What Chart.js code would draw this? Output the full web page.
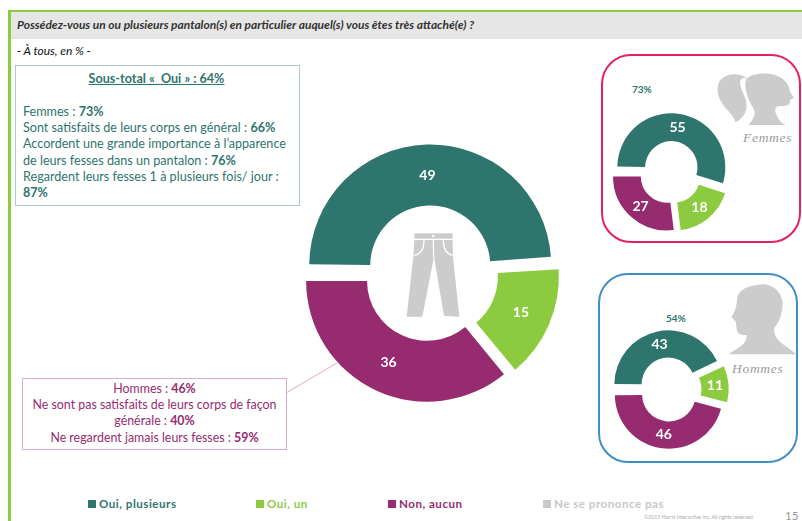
<!DOCTYPE html>
<html lang="fr">
<head>
<meta charset="utf-8">
<title>Pantalons</title>
<script src="https://cdn.jsdelivr.net/npm/chart.js@4"></script>
<style>
  html, body { margin: 0; padding: 0; background: #fff; }
  body { position: relative; width: 802px; height: 521px; overflow: hidden; font-family: Lato, sans-serif; }
  canvas, .abs { position: absolute; }
  .line { position: absolute; white-space: nowrap; }
  #frame-left { left: 8px; top: 10px; width: 3px; height: 511px; background: #8CCB3F; }
  #frame-top { left: 8px; top: 10px; width: 794px; height: 2px; background: #8CCB3F; }
  #band { left: 11px; top: 12px; width: 791px; height: 27px; background: #E6E6E6; }
  #title { left: 17px; top: 17px; font-size: 11.95px; font-weight: 700; font-style: italic; color: #333; white-space: nowrap; }
  #base { left: 17px; top: 43px; font-size: 11.9px; font-style: italic; color: #111; white-space: nowrap; }
  .box { box-sizing: border-box; background: #fff; }
  #box-oui { left: 15px; top: 65px; width: 285px; height: 141px; border: 1px solid #A9CCC7; color: #2E756D; font-size: 12.6px; line-height: 16px; }
  #box-non { left: 22px; top: 378px; width: 265px; height: 72px; border: 1px solid #DDA9CC; color: #962B70; font-size: 12.4px; line-height: 16px; }
  #box-non .line { left: 0; width: 263px; text-align: center; }
  .round { box-sizing: border-box; border-radius: 30px; border-width: 2px; border-style: solid; }
  #frame-f { left: 601px; top: 54px; width: 200px; height: 189px; border-color: #E5215F; }
  #frame-h { left: 598px; top: 273px; width: 200px; height: 190px; border-color: #3F8FC6; }
  .pct { font-size: 10px; font-weight: 700; color: #2E756D; white-space: nowrap; }
  .script { font-family: "Liberation Serif", serif; font-style: italic; font-size: 13.5px; letter-spacing: .7px; color: #9A9A9A; white-space: nowrap; }
  .legend-item { position: absolute; top: 497px; font-size: 11.6px; font-weight: 700; letter-spacing: .5px; white-space: nowrap; }
  .legend-item i { display: inline-block; width: 8px; height: 8px; margin-right: 3px; }
  #copy { left: 644px; top: 514px; font-size: 5.2px; color: #AAA; white-space: nowrap; }
  #page { left: 785px; top: 509px; font-size: 11.5px; color: #999; }
</style>
</head>
<body>
<div class="abs" id="frame-left"></div>
<div class="abs" id="frame-top"></div>
<div class="abs" id="band"></div>
<div class="abs" id="title">Possédez-vous un ou plusieurs pantalon(s) en particulier auquel(s) vous êtes très attaché(e) ?</div>
<div class="abs" id="base">- À tous, en % -</div>

<div class="abs box" id="box-oui">
  <div class="line" style="left:-1px;width:283px;top:5px;text-align:center;font-weight:700;text-decoration:underline">Sous-total «&nbsp; Oui » : 64%</div>
  <div class="line" style="left:7px;top:38px">Femmes : <b>73%</b></div>
  <div class="line" style="left:7px;top:54px">Sont satisfaits de leurs corps en général : <b>66%</b></div>
  <div class="line" style="left:7px;top:70px">Accordent une grande importance à l’apparence</div>
  <div class="line" style="left:7px;top:87px">de leurs fesses dans un pantalon : <b>76%</b></div>
  <div class="line" style="left:7px;top:103px">Regardent leurs fesses 1 à plusieurs fois/ jour :</div>
  <div class="line" style="left:7px;top:119px"><b>87%</b></div>
</div>

<div class="abs box" id="box-non">
  <div class="line" style="top:2px">Hommes : <b>46%</b></div>
  <div class="line" style="top:18px">Ne sont pas satisfaits de leurs corps de façon</div>
  <div class="line" style="top:34px">générale : <b>40%</b></div>
  <div class="line" style="top:51px">Ne regardent jamais leurs fesses : <b>59%</b></div>
</div>

<div class="abs round" id="frame-f"></div>
<div class="abs round" id="frame-h"></div>

<svg class="abs" style="left:0;top:0" width="802" height="521">
  <!-- leader line from the pink box to the purple slice -->
  <line x1="286" y1="393" x2="337" y2="363" stroke="#DDA9CC" stroke-width="1"/>
  <!-- woman silhouette -->
  <g transform="translate(590 45) scale(.3333)" fill="#CCCCCC">
    <path d="M470 98C445 82 412 85 393 103C376 122 382 155 398 178C412 198 432 212 436 232C456 222 470 205 470 180C470 155 449 135 450 108C452 100 462 98 470 98Z"/>
    <path d="M470 100C490 84 530 82 555 90C585 100 598 120 600 140L612 158L600 165C602 180 590 185 570 183C555 183 552 195 560 210C565 225 575 235 588 240L475 240C490 225 500 205 490 190C475 165 458 125 470 100Z"/>
  </g>
  <!-- man silhouette -->
  <g transform="translate(590 265) scale(.3333)" fill="#CCCCCC">
    <path d="M500 60C540 50 575 75 578 115C578 150 565 175 552 190C552 215 565 230 590 245L620 268L416 268C440 250 470 238 470 215L470 210C450 212 440 205 440 190L437 170L424 155C435 140 440 125 442 95C448 75 475 62 500 60Z"/>
  </g>
  <!-- trousers in the middle of the big ring -->
  <g transform="translate(300 110) scale(.3333)">
    <rect x="343" y="370" width="115" height="16" fill="#CCCCCC"/>
    <path d="M343 390L458 390L459 440L478 620L432 618L402 440L367 620L320 620L340 440Z" fill="#CCCCCC"/>
    <path d="M372 390C372 415 365 432 343 436M430 390C430 415 437 432 458 436M400 390L401 445" fill="none" stroke="#fff" stroke-width="4"/>
    <circle cx="400" cy="378" r="4" fill="#fff"/>
  </g>
</svg>

<div class="abs pct" style="left:632px;top:83px">73%</div>
<div class="abs pct" style="left:666px;top:312px">54%</div>
<div class="abs script" style="left:743px;top:130px">Femmes</div>
<div class="abs script" style="left:732px;top:361px">Hommes</div>

<canvas id="chart-all" width="281" height="281" style="left:290px;top:133px"></canvas>
<canvas id="chart-f" width="141" height="141" style="left:600px;top:102px"></canvas>
<canvas id="chart-h" width="141" height="141" style="left:599px;top:319px"></canvas>

<div id="legend"></div>
<div class="abs" id="copy">©2015 Harris Interactive Inc. All rights reserved.</div>
<div class="abs" id="page">15</div>

<script>
const categories = ['Oui, plusieurs', 'Oui, un', 'Non, aucun', 'Ne se prononce pas'];
const colors = ['#2E756D', '#8CCB3F', '#962B70', '#C8C8C8'];
const valuesAll = [49, 15, 36, 0];
const valuesFemmes = [55, 18, 27, 0];
const valuesHommes = [43, 11, 46, 0];
const legendLeft = [88, 256, 388, 543];

// arc.draw() grows each slice by offset/4 * (1 - sin(circumference)), so small
// slices end up thinner; this takes that back out to keep all radii the same
const evenRadii = {
  id: 'evenRadii',
  beforeDatasetsDraw(chart) {
    const meta = chart.getDatasetMeta(0);
    meta.data.forEach((arc) => {
      const off = arc.options.offset / 4;
      const fix = 1 - Math.sin(Math.min(Math.PI, arc.circumference));
      arc.outerRadius = meta.controller.outerRadius - off * fix;
      arc.innerRadius = meta.controller.innerRadius - off * fix;
    });
  }
};

// writes each value in the middle of its slice
const sliceLabels = {
  id: 'sliceLabels',
  afterDatasetsDraw(chart) {
    const ctx = chart.ctx;
    const values = chart.data.datasets[0].data;
    const meta = chart.getDatasetMeta(0);
    const mid = (meta.controller.innerRadius + meta.controller.outerRadius) / 2;
    ctx.save();
    ctx.fillStyle = '#fff';
    ctx.font = 'bold 14px Lato, sans-serif';
    ctx.textAlign = 'center';
    ctx.textBaseline = 'middle';
    meta.data.forEach((arc, i) => {
      if (!values[i]) return;
      const half = (arc.startAngle + arc.endAngle) / 2;
      const r = mid + arc.options.offset / 4;
      ctx.fillText(values[i], arc.x + Math.cos(half) * r, arc.y + Math.sin(half) * r);
    });
    ctx.restore();
  }
};

function drawRing(id, values, radius, cutout, offset) {
  return new Chart(document.getElementById(id), {
    type: 'doughnut',
    data: {
      labels: categories,
      datasets: [{ data: values, backgroundColor: colors, borderWidth: 0, offset: offset }]
    },
    options: {
      responsive: false,
      animation: false,
      rotation: -90,
      radius: radius,
      cutout: cutout,
      plugins: { legend: { display: false }, tooltip: { enabled: false } }
    },
    plugins: [evenRadii, sliceLabels]
  });
}

drawRing('chart-all', valuesAll, 121, '49.6%', 32);
drawRing('chart-f', valuesFemmes, 54, '48.5%', 21);
drawRing('chart-h', valuesHommes, 54, '49.5%', 21);

// legend row under the charts
const legend = document.getElementById('legend');
categories.forEach((name, i) => {
  const item = document.createElement('div');
  item.className = 'legend-item';
  item.style.left = legendLeft[i] + 'px';
  item.style.color = colors[i];
  item.innerHTML = '<i style="background:' + colors[i] + '"></i>' + name;
  legend.appendChild(item);
});
</script>
</body>
</html>
